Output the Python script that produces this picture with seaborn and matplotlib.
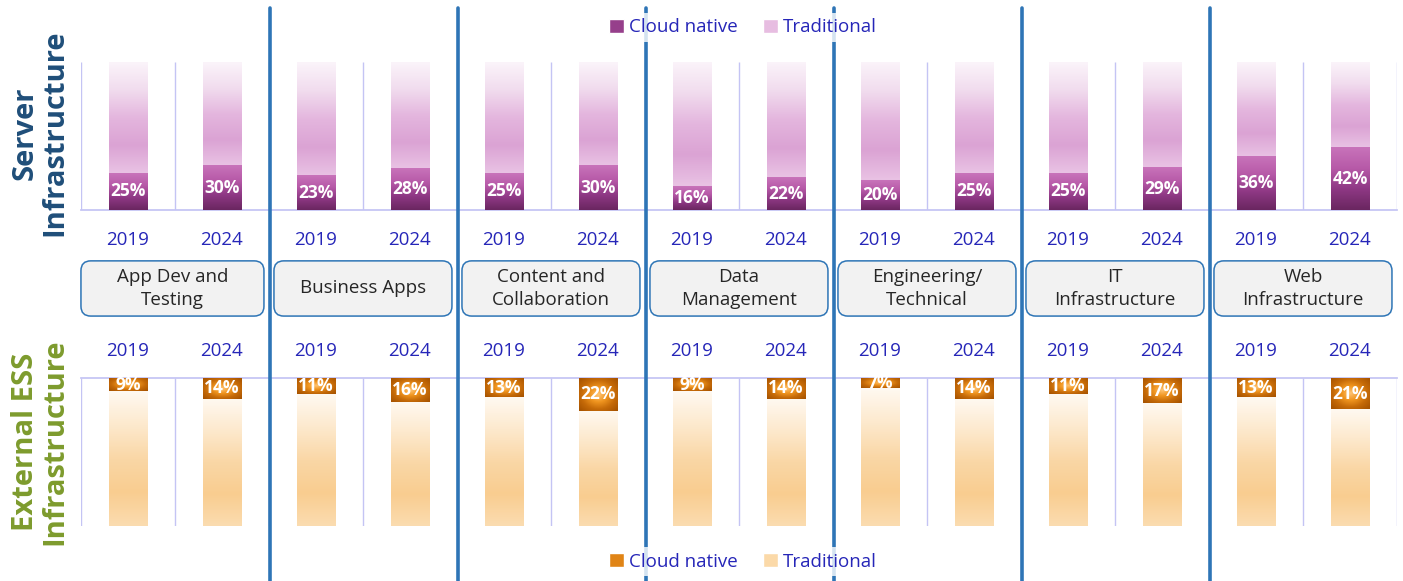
import numpy as np
import pandas as pd
import seaborn as sns
import matplotlib.pyplot as plt
from matplotlib.colors import LinearSegmentedColormap
from matplotlib.patches import Patch, FancyBboxPatch
from matplotlib.lines import Line2D

categories = ["App Dev and\nTesting", "Business Apps", "Content and\nCollaboration",
              "Data\nManagement", "Engineering/\nTechnical", "IT\nInfrastructure",
              "Web\nInfrastructure"]
years = ["2019", "2024"]
server_cloud = [25, 30, 23, 28, 25, 30, 16, 22, 20, 25, 25, 29, 36, 42]
ess_cloud = [9, 14, 11, 16, 13, 22, 9, 14, 7, 14, 11, 17, 13, 21]

slots = [f"{c}|{y}" for c in categories for y in years]
df = pd.DataFrame({
    "slot": slots,
    "year": [y for c in categories for y in years],
    "total": 100,
    "server": server_cloud,
    "ess": ess_cloud,
})

sns.set_theme(style="white")
plt.rcParams["font.family"] = ["Open Sans", "DejaVu Sans"]

YEAR_COLOR = "#2626b8"
GRID = "#c4c4f4"
SEP = "#2e75b6"

fig = plt.figure(figsize=(14.03, 5.81), dpi=100)
L, W, H = 0.0577, 0.938, 0.2547
ax_top = fig.add_axes([L, 0.6386, W, H])
ax_bot = fig.add_axes([L, 0.0947, W, H])


def fill_gradient(ax, patch, y0, y1, colors, radial=False, z=2):
    x0, w = patch.get_x(), patch.get_width()
    cmap = LinearSegmentedColormap.from_list("g", colors)
    if radial:
        yy, xx = np.mgrid[-1:1:60j, -1:1:40j]
        grid = np.clip(np.sqrt(xx ** 2 + yy ** 2) / 1.35, 0, 1)
    else:
        grid = np.linspace(0, 1, 200)[:, None]
    ax.imshow(grid, cmap=cmap, vmin=0, vmax=1, extent=(x0, x0 + w, y0, y1),
              origin="lower", aspect="auto", interpolation="bilinear", zorder=z)


panels = [
    (ax_top, "server",
     ["#e9c2e4", "#dba3d4", "#e4b6de", "#f1dcee", "#fbf4fa"],
     ["#6a2660", "#8e3884", "#b75aa8", "#c873ba"], False),
    (ax_bot, "ess",
     ["#fff9f1", "#fde9cd", "#fad7a6", "#f9cd90", "#fbdcb0"],
     ["#ffc474", "#f0951f", "#c56a08", "#a85400"], True),
]

for ax, col, trad_cols, cloud_cols, inverted in panels:
    sns.barplot(data=df, x="slot", y="total", color=trad_cols[2], width=0.41,
                saturation=1, ax=ax, zorder=1)
    sns.barplot(data=df, x="slot", y=col, color=cloud_cols[1], width=0.41,
                saturation=1, ax=ax, zorder=1)
    n = len(slots)
    trad_patches = ax.patches[:n]
    cloud_patches = ax.patches[n:2 * n]
    for i in range(n):
        v = df[col].iloc[i]
        fill_gradient(ax, trad_patches[i], v, 100, trad_cols, z=2)
        if inverted:
            fill_gradient(ax, cloud_patches[i], 0, v, cloud_cols, radial=True, z=3)
        else:
            fill_gradient(ax, cloud_patches[i], 0, v, cloud_cols, z=3)
        ax.text(i, v / 2, f"{v}%", ha="center", va="center", color="white",
                fontsize=12.5, fontweight="bold", zorder=5)

    ax.set_xlim(-0.5, n - 0.5)
    ax.set_ylim(0, 100)
    ax.vlines(np.arange(-0.5, n), 0, 100, color=GRID, lw=1, zorder=0.5)
    for s in ax.spines.values():
        s.set_visible(False)
    ax.set_yticks([])
    ax.set_ylabel("")
    ax.set_xlabel("")
    ax.set_xticks(range(n))
    ax.set_xticklabels(df["year"], color=YEAR_COLOR, fontsize=13.5)
    if inverted:
        ax.invert_yaxis()
        ax.xaxis.tick_top()
        ax.tick_params(axis="x", length=0, pad=13)
        ax.spines["top"].set_visible(True)
        ax.spines["top"].set_color(GRID)
    else:
        ax.tick_params(axis="x", length=0, pad=15)
        ax.spines["bottom"].set_visible(True)
        ax.spines["bottom"].set_color(GRID)

# group separators
for g in range(1, len(categories)):
    xf = L + (2 * g) / len(slots) * W + 1.5 / 1403
    fig.add_artist(Line2D([xf, xf], [0, 0.986], transform=fig.transFigure,
                          color=SEP, lw=2.6, zorder=10))

# category boxes
inset = 5 / 1403
for g, cat in enumerate(categories):
    x0 = L + (2 * g) / len(slots) * W + inset
    x1 = L + (2 * g + 2) / len(slots) * W - inset
    if g == 0:
        x0 = L
    box = FancyBboxPatch((x0, 0.456), x1 - x0, 0.095,
                         boxstyle="round,pad=0,rounding_size=0.007",
                         mutation_aspect=1403 / 581, transform=fig.transFigure,
                         fc="#f2f2f2", ec=SEP, lw=1.1)
    fig.add_artist(box)
    fig.text((x0 + x1) / 2, 0.5035, cat, ha="center", va="center",
             fontsize=13.5, color="#262626", linespacing=1.3)

# side titles
fig.text(0.0285, 0.771, "Server\nInfrastructure", rotation=90, ha="center",
         va="center", multialignment="center", fontsize=21, fontweight="bold",
         color="#1f4e79", linespacing=1.0)
fig.text(0.0285, 0.239, "External ESS\nInfrastructure", rotation=90, ha="center",
         va="center", multialignment="center", fontsize=21, fontweight="bold",
         color="#7d9b2d", linespacing=1.0)

# legends (white background hides the separators behind them)
for y, cloud_c, trad_c in [(0.953, "#963f8b", "#e7bde1"), (0.033, "#e08416", "#fbd9a8")]:
    handles = [Patch(facecolor=cloud_c), Patch(facecolor=trad_c)]
    leg = fig.legend(handles, ["Cloud native", "Traditional"], loc="center",
                     bbox_to_anchor=(0.5295, y), ncol=2, frameon=True, fancybox=False,
                     fontsize=13.5, labelcolor=YEAR_COLOR, handlelength=0.8,
                     handleheight=0.8, columnspacing=1.3, handletextpad=0.3,
                     borderpad=0.3)
    leg.get_frame().set_facecolor("white")
    leg.get_frame().set_edgecolor("none")
    leg.set_zorder(20)

fig.savefig("out.png", dpi=100)
